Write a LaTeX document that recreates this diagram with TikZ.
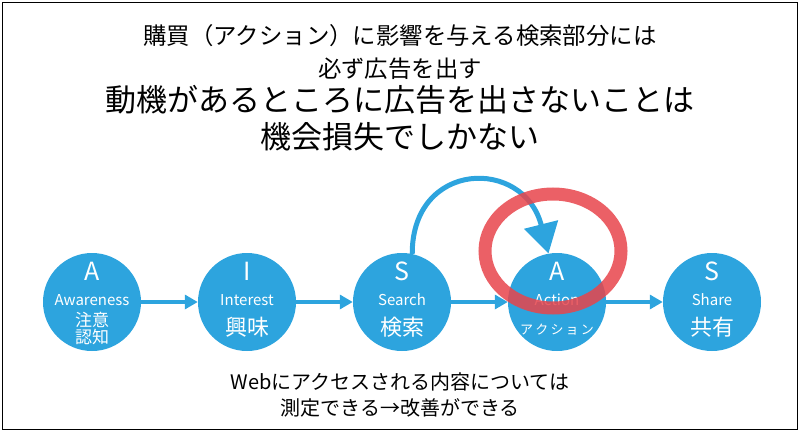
\documentclass[tikz,border=0pt]{standalone}
\usepackage{fontspec}
\setmainfont{Noto Sans CJK JP}
\usetikzlibrary{arrows.meta}
\definecolor{aisblue}{HTML}{2DA4DE}
\definecolor{ringred}{HTML}{E8444B}
\begin{document}
\begin{tikzpicture}[x=1pt, y=-1pt, every node/.style={inner sep=0pt}]
\tikzset{stage/.style={circle,fill=aisblue,minimum size=98pt},
  ltr/.style={text=white,font=\fontsize{25}{25}\selectfont},
  eng/.style={text=white,font=\fontsize{15}{15}\selectfont},
  jpn/.style={text=white,align=center,font=\fontsize{22}{22}\selectfont},
  flow/.style={-{Triangle[length=13pt,width=14pt]},line width=4pt,aisblue},
  jump/.style={-{Triangle[length=30pt,width=34pt]},line width=5pt,aisblue},
  ring/.style={draw=ringred,line width=13pt,draw opacity=.85}}
\useasboundingbox (0,0) rectangle (800,433);
\draw[line width=1.5pt] (2.5,2.5) rectangle (797.5,429.5);
% heading
\node[align=center,font=\fontsize{23.4}{33}\selectfont] (head) at (400,52) {購買（アクション）に影響を与える検索部分には\\必ず広告を出す};
\node[align=center,font=\fontsize{31}{37}\selectfont] (claim) at (400,118) {動機があるところに広告を出さないことは\\機会損失でしかない};
% AISAS
\node[stage] (aw) at (92,302) {};
\node[stage] (intr) at (247,302) {};
\node[stage] (se) at (402,302) {};
\node[stage] (ac) at (557,302) {};
\node[stage] (sh) at (712,302) {};
\node[ltr] (aw-l) at (92,271) {A};
\node[eng] (aw-e) at (92,300) {Awareness};
\node[jpn,font=\fontsize{17}{17}\selectfont] (aw-j) at (92,328) {注意\\認知};
\node[ltr] (intr-l) at (247,271) {I};
\node[eng] (intr-e) at (247,300) {Interest};
\node[jpn] (intr-j) at (247,327) {興味};
\node[ltr] (se-l) at (402,271) {S};
\node[eng] (se-e) at (402,300) {Search};
\node[jpn] (se-j) at (402,327) {検索};
\node[ltr] (ac-l) at (557,271) {A};
\node[eng] (ac-e) at (557,300) {Action};
\node[jpn,font=\fontsize{13}{13}\selectfont] (ac-j) at (557,330) {ア\,ク\,シ\,ョ\,ン};
\node[ltr] (sh-l) at (712,271) {S};
\node[eng] (sh-e) at (712,300) {Share};
\node[jpn] (sh-j) at (712,327) {共有};
\draw[flow] (aw) -- (intr);
\draw[flow] (intr) -- (se);
\draw[flow] (se) -- (ac);
\draw[flow] (ac) -- (sh);
\draw[jump] (se.78) .. controls (412,160) and (524,157) .. (ac.100);
\draw[ring] (553,251) ellipse [x radius=68, y radius=57];
\node[align=center,font=\fontsize{20}{26}\selectfont] (note) at (400,395) {Webにアクセスされる内容については\\測定できる→改善ができる};
\end{tikzpicture}
\end{document}
